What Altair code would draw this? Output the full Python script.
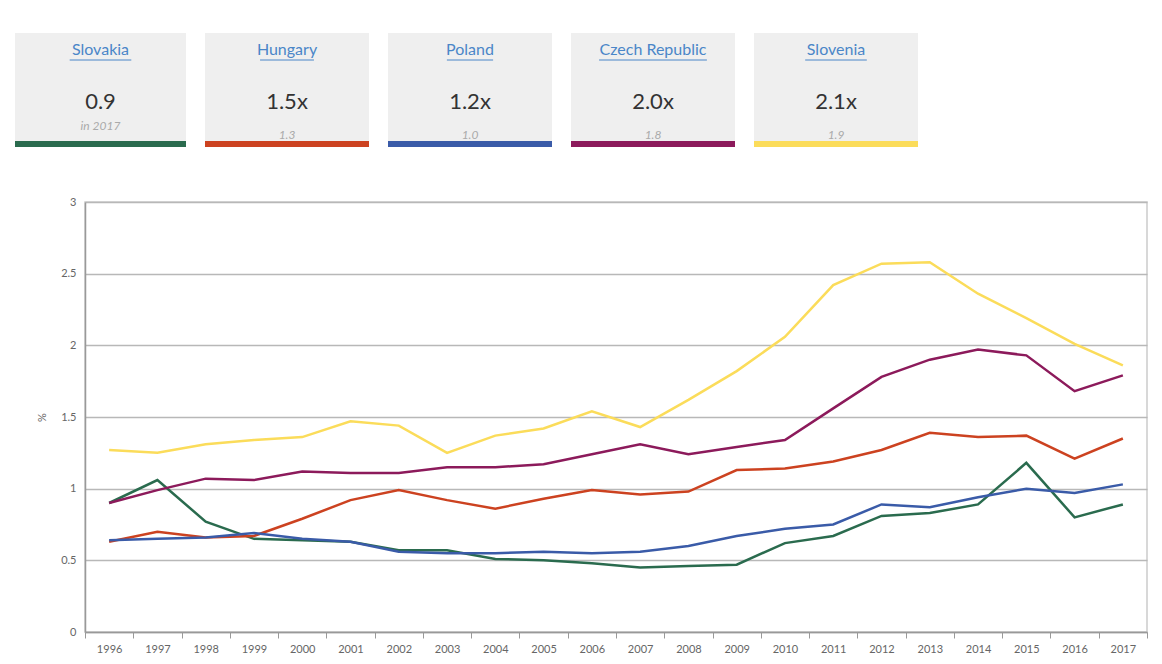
import altair as alt
import pandas as pd

years = [str(y) for y in range(1996, 2018)]

countries = ["Slovakia", "Hungary", "Poland", "Czech Republic", "Slovenia"]
colors = ["#2a6b4e", "#cc4220", "#3a5ba8", "#8c1a5b", "#fbdc5a"]
card_values = ["0.9", "1.5x", "1.2x", "2.0x", "2.1x"]
card_subs = ["in 2017", "1.3", "1.0", "1.8", "1.9"]

slovakia = [0.90, 1.06, 0.77, 0.65, 0.64, 0.63, 0.57, 0.57, 0.51, 0.50, 0.48,
            0.45, 0.46, 0.47, 0.62, 0.67, 0.81, 0.83, 0.89, 1.18, 0.80, 0.89]
hungary = [0.63, 0.70, 0.66, 0.67, 0.79, 0.92, 0.99, 0.92, 0.86, 0.93, 0.99,
           0.96, 0.98, 1.13, 1.14, 1.19, 1.27, 1.39, 1.36, 1.37, 1.21, 1.35]
poland = [0.64, 0.65, 0.66, 0.69, 0.65, 0.63, 0.56, 0.55, 0.55, 0.56, 0.55,
          0.56, 0.60, 0.67, 0.72, 0.75, 0.89, 0.87, 0.94, 1.00, 0.97, 1.03]
czech = [0.90, 0.99, 1.07, 1.06, 1.12, 1.11, 1.11, 1.15, 1.15, 1.17, 1.24,
         1.31, 1.24, 1.29, 1.34, 1.56, 1.78, 1.90, 1.97, 1.93, 1.68, 1.79]
slovenia = [1.27, 1.25, 1.31, 1.34, 1.36, 1.47, 1.44, 1.25, 1.37, 1.42, 1.54,
            1.43, 1.62, 1.82, 2.06, 2.42, 2.57, 2.58, 2.36, 2.19, 2.01, 1.86]
series = [slovakia, hungary, poland, czech, slovenia]

FONT = "Lato"

rows = []
for k, (c, vals) in enumerate(zip(countries, series)):
    for y, v in zip(years, vals):
        rows.append({"country": c, "year": y, "value": v, "k": k})
df = pd.DataFrame(rows)

color_scale = alt.Scale(domain=countries, range=colors)

lines = alt.Chart(df).mark_line(strokeWidth=2.5).encode(
    x=alt.X("year:O", bandPosition=0.5,
            scale=alt.Scale(type="band", paddingInner=0, paddingOuter=0),
            axis=alt.Axis(title=None, tickBand="extent", labelAngle=0, labelColor="#666",
                          labelFontSize=11, labelFont=FONT, labelPadding=5, tickColor="#999",
                          tickSize=6, domainColor="#999", domainWidth=1.5, grid=False)),
    y=alt.Y("value:Q", scale=alt.Scale(domain=[0, 3], nice=False),
            axis=alt.Axis(values=[0, 0.5, 1, 1.5, 2, 2.5, 3], format="~g", title="%",
                          gridColor="#b8b8b8", gridWidth=1.5, domainColor="#999", domainWidth=1.5,
                          ticks=False, labelPadding=9, labelColor="#666", labelFontSize=11,
                          labelFont=FONT, titleColor="#666", titleFontWeight="normal",
                          titleFontSize=11, titleFont=FONT, titlePadding=13)),
    color=alt.Color("country:N", scale=color_scale, legend=None),
    order=alt.Order("k:Q"),
).properties(width=1062, height=430)

# card layout (pixels relative to plot left edge)
step_px = 183.0
card_w = 164.0
first_extra = 7.0
rows_c = []
for i, (c, v, s) in enumerate(zip(countries, card_values, card_subs)):
    half_ul = len(c) * 3.85 / step_px
    x0 = i - (first_extra / step_px if i == 0 else 0)
    x1 = i + card_w / step_px
    xc = (x0 + x1) / 2
    rows_c.append({"i": i, "country": c, "value": v, "sub": s,
                   "x0": x0, "x1": x1, "xc": xc,
                   "ul0": xc - half_ul, "ul1": xc + half_ul})
cdf = pd.DataFrame(rows_c)

xs = alt.Scale(domain=[0, 5], range=[-63, -63 + 5 * step_px], nice=False, zero=False)

def X(f):
    return alt.X(f"{f}:Q", scale=xs, axis=None)

base = alt.Chart(cdf)
bg = base.mark_rect(color="#efefef").encode(x=X("x0"), x2="x1", y=alt.value(0), y2=alt.value(108))
bar = base.mark_rect().encode(x=X("x0"), x2="x1", y=alt.value(108), y2=alt.value(114),
                              color=alt.Color("country:N", scale=color_scale, legend=None))
title = base.mark_text(fontSize=16, color="#4a86c8", font=FONT, baseline="middle").encode(
    x=X("xc"), y=alt.value(17), text="country:N")
ul = base.mark_rule(color="#4a86c8", strokeWidth=1).encode(x=X("ul0"), x2="ul1", y=alt.value(27))
val = base.mark_text(fontSize=22, color="#333", font=FONT, baseline="middle").encode(
    x=X("xc"), y=alt.value(69), text="value:N")
sub0 = base.transform_filter("datum.i == 0").mark_text(
    fontSize=12, fontStyle="italic", color="#aaa", font=FONT, baseline="middle").encode(
    x=X("xc"), y=alt.value(93), text="sub:N")
sub1 = base.transform_filter("datum.i > 0").mark_text(
    fontSize=12, fontStyle="italic", color="#aaa", font=FONT, baseline="middle").encode(
    x=X("xc"), y=alt.value(102), text="sub:N")

cards = alt.layer(bg, bar, title, ul, val, sub0, sub1).properties(
    width=915, height=114, view=alt.ViewBackground(stroke=None))

chart = alt.vconcat(cards, lines, spacing=55, bounds="flush").properties(
    padding={"left": 7, "top": 25, "right": 5, "bottom": 5}
).configure_view(stroke="#cccccc", strokeWidth=1.5)

chart.save("out.html", embed_options={"renderer": "svg", "actions": False})
